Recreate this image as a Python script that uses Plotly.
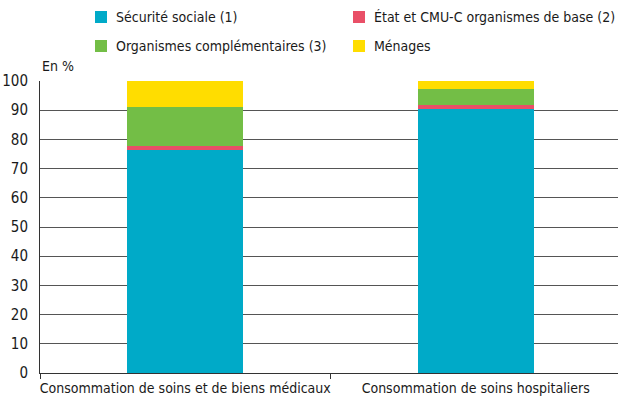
import plotly.graph_objects as go

# Financing shares of health consumption, in %
categories = ["Consommation de soins et de biens médicaux", "Consommation de soins hospitaliers"]
series_names = [
    "Sécurité sociale (1)",
    "État et CMU-C organismes de base (2)",
    "Organismes complémentaires (3)",
    "Ménages",
]
securite_sociale = [76.4, 90.4]
etat_cmuc = [1.5, 1.5]
organismes_complementaires = [13.2, 5.4]
menages = [8.9, 2.7]
y_ticks = [0, 10, 20, 30, 40, 50, 60, 70, 80, 90, 100]

colors = ["#00AAC8", "#E94F67", "#73BE46", "#FFDD00"]
values = [securite_sociale, etat_cmuc, organismes_complementaires, menages]

FONT = "DejaVu Sans Condensed, DejaVu Sans, sans-serif"
TEXT = "#1A1A1A"

W, H = 618, 396
ML, MR, MT, MB = 40, 0, 81, 23
PW, PH = W - ML - MR, H - MT - MB

fig = go.Figure()
for name, vals, col in zip(series_names, values, colors):
    fig.add_trace(go.Bar(x=categories, y=vals, name=name, marker_color=col,
                         marker_line_width=0, showlegend=False))


def px_to_paper(px, py):
    return (px - ML) / PW, (H - MB - py) / PH


# Custom two-column legend above the plot
legend_slots = [(95, 17), (353, 17), (95, 46), (353, 46)]
shapes = []
annotations = []
for (sx, sy), name, col in zip(legend_slots, series_names, colors):
    x0, y0 = px_to_paper(sx, sy + 6)
    x1, y1 = px_to_paper(sx + 12, sy - 6)
    shapes.append(dict(type="rect", xref="paper", yref="paper", x0=x0, x1=x1,
                       y0=y0, y1=y1, fillcolor=col, line_width=0))
    tx, ty = px_to_paper(sx + 19, sy)
    annotations.append(dict(text=name, xref="paper", yref="paper", x=tx, y=ty,
                            xanchor="left", yanchor="middle", showarrow=False,
                            font=dict(family=FONT, size=14, color=TEXT)))

ax, ay = px_to_paper(40, 66)
annotations.append(dict(text="En %", xref="paper", yref="paper", x=ax, y=ay,
                        xanchor="left", yanchor="middle", showarrow=False,
                        font=dict(family=FONT, size=14, color=TEXT)))

fig.update_layout(
    width=W, height=H,
    margin=dict(l=ML, r=MR, t=MT, b=MB, autoexpand=False),
    barmode="stack", bargap=0.6,
    plot_bgcolor="white", paper_bgcolor="white",
    font=dict(family=FONT, size=14, color=TEXT),
    shapes=shapes, annotations=annotations,
    showlegend=False,
)
fig.update_xaxes(
    range=[-0.5, 1.49], showline=True, linecolor="#333333", linewidth=1,
    showgrid=False, ticks="outside", tickson="boundaries", ticklen=5,
    tickcolor="#333333", tickangle=0, ticklabelstandoff=2,
    tickfont=dict(size=14, color=TEXT),
)
fig.update_yaxes(
    range=[0, 100], tickvals=y_ticks, showline=True, linecolor="#333333",
    linewidth=1, showgrid=True, gridcolor="#555555", gridwidth=1,
    zeroline=False, ticks="", ticklabelstandoff=8,
    tickfont=dict(size=15, color=TEXT),
)

fig.write_html("out.html")
